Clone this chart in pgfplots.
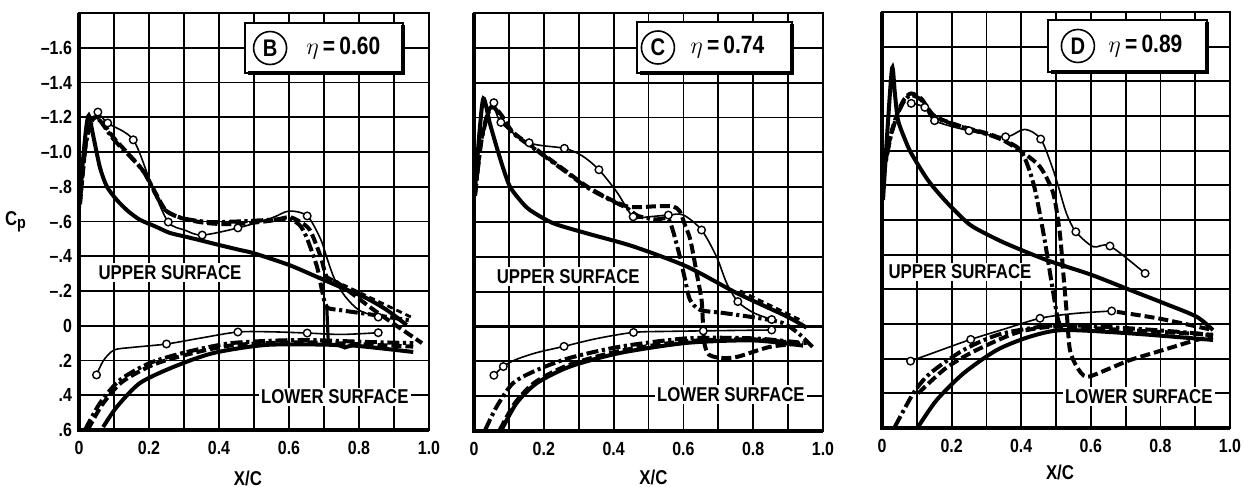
\documentclass[border=0pt]{standalone}
\usepackage{pgfplots}
\pgfplotsset{compat=1.18}
\usepackage{fontspec}
\setmainfont{Liberation Sans}[FakeStretch=0.84]

\pgfplotsset{
  cpaxis/.style={
    scale only axis, anchor=south west,
    clip mode=individual,
    xmin=0, xmax=1, ymin=-1.8, ymax=0.6, y dir=reverse,
    xtick={0,0.2,0.4,0.6,0.8,1.0},
    xticklabels={0,0.2,0.4,0.6,0.8,1.0},
    minor xtick={0.1,0.3,0.5,0.7,0.9},
    ytick={-1.6,-1.4,-1.2,-1.0,-0.8,-0.6,-0.4,-0.2,0,0.2,0.4,0.6},
    grid=both,
    major grid style={black, line width=0.9pt},
    minor grid style={black, line width=0.9pt},
    major tick length=0pt, minor tick length=0pt,
    axis line style={line width=0.9pt},
    tick label style={font=\bfseries\fontsize{9.5}{10}\selectfont},
    xticklabel style={yshift=-2pt},
  },
  thinc/.style={black, line width=0.8pt, smooth, tension=0.5},
  circ/.style={only marks, mark=*, mark size=1.9pt,
    mark options={fill=white, draw=black, line width=0.7pt, solid}},
  solidth/.style={black, line width=2pt, smooth, tension=0.45},
  dashdot/.style={black, line width=2pt, smooth, tension=0.45,
    dash pattern=on 6pt off 1.8pt on 1.6pt off 1.8pt},
  dashth/.style={black, line width=2pt, smooth, tension=0.45,
    dash pattern=on 5pt off 2pt},
  shortdash/.style={black, line width=1.4pt, smooth,
    dash pattern=on 3pt off 2pt},
}

% white label with drop shadow: circled station letter and span station
\newcommand{\stationbox}[7]{%
  \draw[fill=white, line width=0.8pt] (axis cs:#1,#3) rectangle (axis cs:#2,#4);
  \draw[line width=2.2pt] (axis cs:#2,#3+0.012) -- (axis cs:#2,#4) -- (axis cs:#1+0.01,#4);
  \node[draw, circle, line width=0.8pt, minimum size=16.5pt, inner sep=0pt,
        font=\bfseries\fontsize{12}{12}\selectfont] at (axis cs:#5,{(#3+#4)/2}) {#7};
}
\newcommand{\zeroline}{\draw[line width=1.1pt] (axis cs:0,0) -- (axis cs:1,0);}
\newcommand{\frameLB}{\draw[line width=1.8pt] (axis cs:0,-1.8) -- (axis cs:0,0.6) -- (axis cs:1,0.6);}
\newcommand{\lbl}{\bfseries\fontsize{10}{10}\selectfont}
\newcommand{\etafont}{\bfseries\fontsize{12.5}{12.5}\selectfont}

\begin{document}
\bfseries
\begin{tikzpicture}[font=\bfseries]
\path[use as bounding box] (0,0) rectangle (622pt,243.5pt);

% ---------------- Station B ----------------
\begin{axis}[cpaxis, at={(39.5pt,28.5pt)}, width=175pt, height=208.5pt,
  yticklabels={\textendash1.6,\textendash1.4,\textendash1.2,\textendash1.0,\textendash.8,\textendash.6,\textendash.4,\textendash.2,0,.2,.4,.6}]
\zeroline
% upper surface
\addplot[solidth] coordinates {(0,-0.68)(0.01,-0.92)(0.02,-1.13)(0.028,-1.21)(0.04,-1.10)(0.06,-0.91)(0.08,-0.80)(0.108,-0.724)(0.14,-0.66)(0.174,-0.61)(0.22,-0.57)(0.26,-0.534)(0.31,-0.51)(0.40,-0.465)(0.46,-0.436)(0.50,-0.417)(0.60,-0.35)(0.679,-0.282)(0.75,-0.22)(0.82,-0.16)(0.88,-0.09)(0.936,-0.004)};
\addplot[dashdot] coordinates {(0.003,-0.72)(0.02,-1.05)(0.04,-1.19)(0.06,-1.18)(0.10,-1.07)(0.18,-0.90)(0.217,-0.764)(0.246,-0.666)(0.294,-0.62)(0.37,-0.597)(0.45,-0.60)(0.55,-0.61)(0.60,-0.615)(0.63,-0.58)(0.65,-0.51)(0.68,-0.34)(0.694,-0.206)(0.708,-0.108)(0.746,-0.09)(0.85,-0.06)(0.95,-0.03)};
\addplot[dashth] coordinates {(0.003,-0.70)(0.02,-1.06)(0.04,-1.19)(0.06,-1.19)(0.10,-1.08)(0.18,-0.90)(0.22,-0.76)(0.25,-0.66)(0.30,-0.615)(0.37,-0.59)(0.45,-0.585)(0.55,-0.605)(0.60,-0.625)(0.63,-0.60)(0.66,-0.55)(0.69,-0.40)(0.708,-0.28)(0.737,-0.25)(0.85,-0.08)(0.98,0.10)};
\addplot[shortdash] coordinates {(0.726,-0.263)(0.85,-0.145)(0.954,-0.045)};
\addplot[black, line width=1.6pt] coordinates {(0.708,-0.10)(0.712,0.08)};
\addplot[thinc] coordinates {(0.054,-1.23)(0.082,-1.167)(0.155,-1.07)(0.209,-0.80)(0.255,-0.597)(0.303,-0.55)(0.352,-0.522)(0.454,-0.563)(0.55,-0.62)(0.60,-0.66)(0.652,-0.632)(0.69,-0.50)(0.71,-0.38)(0.73,-0.27)(0.76,-0.17)(0.80,-0.09)(0.855,-0.05)};
\addplot[circ] coordinates {(0.054,-1.23)(0.082,-1.167)(0.155,-1.07)(0.255,-0.597)(0.352,-0.522)(0.454,-0.563)(0.652,-0.632)(0.855,-0.05)};
% lower surface
\addplot[dashdot] coordinates {(0.017,0.60)(0.06,0.445)(0.117,0.312)(0.203,0.214)(0.308,0.151)(0.44,0.099)(0.63,0.082)(0.82,0.093)(0.955,0.10)};
\addplot[dashth] coordinates {(0.025,0.60)(0.066,0.455)(0.122,0.325)(0.21,0.226)(0.31,0.165)(0.44,0.112)(0.63,0.095)(0.82,0.108)(0.955,0.12)};
\addplot[solidth] coordinates {(0.069,0.583)(0.108,0.467)(0.174,0.33)(0.27,0.237)(0.384,0.157)(0.537,0.11)(0.727,0.11)(0.76,0.125)(0.79,0.115)(0.955,0.151)};
\addplot[thinc] coordinates {(0.05,0.283)(0.07,0.20)(0.10,0.14)(0.15,0.125)(0.25,0.105)(0.35,0.07)(0.454,0.036)(0.55,0.035)(0.652,0.042)(0.75,0.05)(0.855,0.04)};
\addplot[circ] coordinates {(0.05,0.283)(0.25,0.105)(0.454,0.036)(0.652,0.042)(0.855,0.04)};
\node[fill=white, inner sep=1.2pt, font=\lbl] at (axis cs:0.26,-0.304) {UPPER SURFACE};
\node[fill=white, inner sep=1.2pt, font=\lbl] at (axis cs:0.731,0.41) {LOWER SURFACE};
\stationbox{0.474}{0.926}{-1.742}{-1.455}{0.546}{0.754}{B}
\node[font=\etafont] at (axis cs:0.755,-1.60) {$\eta$\,=\,0.60};
\frameLB
\node[anchor=east, font=\bfseries\fontsize{10}{10}\selectfont, xshift=-23pt] at (axis cs:0,-0.6) {C\raisebox{-1.5pt}{\fontsize{8.5}{8.5}\selectfont p}};
\node[font=\lbl, yshift=-24pt, xshift=-3pt] at (axis cs:0.5,0.6) {X/C};
\end{axis}

% ---------------- Station C ----------------
\begin{axis}[cpaxis, at={(237pt,28pt)}, width=174.5pt, height=209pt, yticklabels={}]
\zeroline
% upper surface
\addplot[solidth] coordinates {(0.003,-0.78)(0.015,-1.10)(0.027,-1.31)(0.045,-1.17)(0.065,-1.03)(0.085,-0.90)(0.103,-0.803)(0.13,-0.73)(0.16,-0.669)(0.227,-0.593)(0.323,-0.535)(0.456,-0.46)(0.61,-0.344)(0.753,-0.192)(0.896,-0.058)(0.953,0.007)};
\addplot[dashdot] coordinates {(0.003,-0.75)(0.02,-1.05)(0.04,-1.22)(0.055,-1.26)(0.08,-1.20)(0.112,-1.11)(0.18,-1.01)(0.255,-0.90)(0.323,-0.80)(0.39,-0.727)(0.438,-0.68)(0.47,-0.635)(0.52,-0.615)(0.555,-0.62)(0.57,-0.55)(0.59,-0.40)(0.605,-0.267)(0.619,-0.153)(0.648,-0.095)(0.713,-0.078)(0.81,-0.05)(0.885,-0.02)(0.93,0.04)(0.97,0.117)};
\addplot[dashth] coordinates {(0.003,-0.76)(0.02,-1.06)(0.04,-1.23)(0.055,-1.265)(0.08,-1.21)(0.112,-1.115)(0.18,-1.015)(0.255,-0.905)(0.323,-0.805)(0.39,-0.73)(0.438,-0.69)(0.47,-0.685)(0.52,-0.69)(0.57,-0.69)(0.59,-0.66)(0.605,-0.58)(0.62,-0.497)(0.638,-0.307)(0.652,-0.153)(0.656,-0.02)(0.66,0.094)(0.672,0.16)(0.705,0.18)(0.753,0.175)(0.848,0.117)(0.953,0.094)};
\addplot[shortdash] coordinates {(0.762,-0.205)(0.85,-0.12)(0.943,-0.03)};
\addplot[thinc] coordinates {(0.057,-1.285)(0.077,-1.172)(0.158,-1.055)(0.259,-1.023)(0.31,-0.98)(0.358,-0.90)(0.41,-0.77)(0.456,-0.63)(0.50,-0.63)(0.557,-0.64)(0.60,-0.64)(0.652,-0.554)(0.695,-0.40)(0.724,-0.249)(0.756,-0.143)(0.80,-0.08)(0.853,-0.04)};
\addplot[circ] coordinates {(0.057,-1.285)(0.077,-1.172)(0.158,-1.055)(0.259,-1.023)(0.358,-0.90)(0.456,-0.63)(0.557,-0.64)(0.652,-0.554)(0.756,-0.143)(0.853,-0.04)};
% lower surface
\addplot[dashdot] coordinates {(0.032,0.594)(0.065,0.46)(0.112,0.325)(0.18,0.25)(0.275,0.18)(0.418,0.116)(0.61,0.068)(0.80,0.068)(0.943,0.094)};
\addplot[solidth] coordinates {(0.079,0.594)(0.122,0.44)(0.18,0.325)(0.275,0.23)(0.418,0.152)(0.61,0.094)(0.80,0.08)(0.943,0.11)};
\addplot[dashth] coordinates {(0.074,0.594)(0.117,0.44)(0.175,0.32)(0.27,0.222)(0.418,0.14)(0.61,0.084)(0.80,0.074)(0.943,0.10)};
\addplot[thinc] coordinates {(0.057,0.28)(0.084,0.23)(0.12,0.19)(0.18,0.15)(0.258,0.114)(0.35,0.07)(0.457,0.034)(0.557,0.028)(0.657,0.025)(0.853,0.02)};
\addplot[circ] coordinates {(0.057,0.28)(0.084,0.23)(0.258,0.114)(0.457,0.034)(0.657,0.025)(0.853,0.02)};
\node[fill=white, inner sep=1.2pt, font=\lbl] at (axis cs:0.27,-0.286) {UPPER SURFACE};
\node[fill=white, inner sep=1.2pt, font=\lbl] at (axis cs:0.736,0.393) {LOWER SURFACE};
\stationbox{0.467}{0.911}{-1.748}{-1.456}{0.527}{0.725}{C}
\node[font=\etafont] at (axis cs:0.726,-1.605) {$\eta$\,=\,0.74};
\frameLB
\node[font=\lbl, yshift=-23pt, xshift=2.5pt] at (axis cs:0.5,0.6) {X/C};
\end{axis}

% ---------------- Station D ----------------
\begin{axis}[cpaxis, at={(441pt,29.5pt)}, width=174pt, height=208pt, yticklabels={}]
\zeroline
% upper surface
\addplot[solidth] coordinates {(0.003,-0.715)(0.015,-1.10)(0.029,-1.477)(0.037,-1.33)(0.046,-1.177)(0.065,-1.07)(0.084,-0.985)(0.132,-0.83)(0.18,-0.715)(0.227,-0.619)(0.262,-0.56)(0.35,-0.47)(0.473,-0.369)(0.60,-0.285)(0.713,-0.196)(0.81,-0.12)(0.904,-0.042)(0.951,0.035)};
\addplot[dashdot] coordinates {(0.003,-0.85)(0.025,-1.08)(0.046,-1.215)(0.065,-1.29)(0.084,-1.32)(0.113,-1.292)(0.151,-1.196)(0.228,-1.138)(0.324,-1.08)(0.397,-1.004)(0.435,-0.812)(0.464,-0.523)(0.483,-0.292)(0.502,-0.061)(0.51,0.0)};
\addplot[dashth] coordinates {(0.003,-0.86)(0.025,-1.09)(0.046,-1.225)(0.065,-1.30)(0.084,-1.33)(0.113,-1.30)(0.151,-1.20)(0.228,-1.14)(0.324,-1.085)(0.397,-1.00)(0.454,-0.907)(0.492,-0.754)(0.511,-0.523)(0.521,-0.292)(0.531,-0.06)(0.54,0.15)(0.56,0.247)(0.588,0.305)(0.65,0.26)(0.713,0.208)(0.808,0.15)(0.904,0.092)(0.951,0.075)};
\addplot[thinc] coordinates {(0.084,-1.273)(0.123,-1.25)(0.151,-1.173)(0.25,-1.115)(0.355,-1.08)(0.41,-1.123)(0.456,-1.067)(0.49,-0.90)(0.507,-0.792)(0.53,-0.638)(0.557,-0.532)(0.607,-0.446)(0.655,-0.45)(0.756,-0.292)};
\addplot[circ] coordinates {(0.084,-1.273)(0.123,-1.25)(0.151,-1.173)(0.25,-1.115)(0.355,-1.08)(0.456,-1.067)(0.557,-0.532)(0.655,-0.45)(0.756,-0.292)};
% lower surface
\addplot[dashdot] coordinates {(0.037,0.593)(0.09,0.40)(0.138,0.285)(0.234,0.15)(0.33,0.064)(0.425,0.025)(0.52,0.006)(0.713,0.025)(0.904,0.054)(0.951,0.07)};
\addplot[solidth] coordinates {(0.104,0.593)(0.157,0.439)(0.234,0.285)(0.33,0.15)(0.425,0.073)(0.52,0.035)(0.713,0.054)(0.951,0.092)};
\addplot[dashth] coordinates {(0.104,0.40)(0.18,0.26)(0.262,0.16)(0.387,0.05)(0.50,0.015)(0.70,0.035)(0.951,0.062)};
\addplot[dashth] coordinates {(0.675,-0.07)(0.80,-0.03)(0.951,0.035)};
\addplot[thinc] coordinates {(0.082,0.214)(0.17,0.15)(0.255,0.089)(0.35,0.03)(0.454,-0.033)(0.55,-0.06)(0.66,-0.075)};
\addplot[circ] coordinates {(0.082,0.214)(0.255,0.089)(0.454,-0.033)(0.66,-0.075)};
\node[fill=white, inner sep=1.2pt, font=\lbl] at (axis cs:0.224,-0.30) {UPPER SURFACE};
\node[fill=white, inner sep=1.2pt, font=\lbl] at (axis cs:0.738,0.42) {LOWER SURFACE};
\stationbox{0.477}{0.934}{-1.754}{-1.454}{0.563}{0.756}{D}
\node[font=\etafont] at (axis cs:0.757,-1.604) {$\eta$\,=\,0.89};
\frameLB
\node[font=\lbl, yshift=-22pt, xshift=2pt] at (axis cs:0.5,0.6) {X/C};
\end{axis}
\end{tikzpicture}
\end{document}
